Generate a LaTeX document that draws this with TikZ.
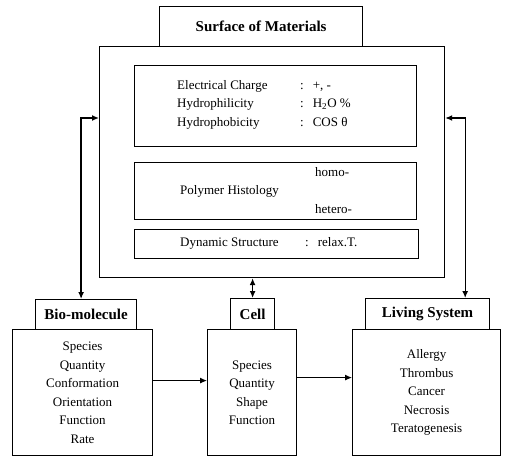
\documentclass[tikz,border=0pt]{standalone}
\usepackage{fontspec}
\setmainfont{Liberation Serif}
\usetikzlibrary{arrows.meta}

\begin{document}
\begin{tikzpicture}[x=1pt,y=-1pt,
	box/.style={draw, line width=1.2pt, inner sep=0pt},
	head/.style={box, font=\fontsize{15}{18}\selectfont\bfseries},
	body/.style={box, align=center, font=\fontsize{13}{18.5}\selectfont},
	txt/.style={inner sep=0pt, font=\fontsize{13}{18.5}\selectfont},
	dbl/.style={line width=1.3pt, {Latex[length=7pt,width=6pt]}-{Latex[length=7pt,width=6pt]}},
	arr/.style={line width=1pt, -{Latex[length=7pt,width=6pt]}}]
	\useasboundingbox (0,0) rectangle (505,457);

	%Surface of Materials
	\node[head, anchor=north west, minimum width=203pt, minimum height=40pt] (surf) at (159,6) {Surface of Materials};
	\node[box, anchor=north west, minimum width=345pt, minimum height=231pt] (frame) at (99,46) {};

	%properties
	\node[box, anchor=north west, minimum width=282pt, minimum height=81pt] (prop) at (134,65) {};
	\node[txt, anchor=west] (proptxt) at (177,104) {\begin{tabular}{@{}p{123pt}@{}l@{}}
		Electrical Charge & :\hspace{9pt}+, -\\
		Hydrophilicity & :\hspace{9pt}H\textsubscript{2}O \%\\
		Hydrophobicity & :\hspace{9pt}COS θ
	\end{tabular}};

	%histology
	\node[box, anchor=north west, minimum width=282pt, minimum height=57pt] (hist) at (134,162) {};
	\node[txt, anchor=west] (poly) at (180,191) {Polymer Histology};
	\node[txt, anchor=west] (homo) at (315,172) {homo-};
	\node[txt, anchor=west] (hetero) at (315,209) {hetero-};

	%dynamic
	\node[box, anchor=north west, minimum width=284pt, minimum height=29pt] (dyn) at (134,229) {};
	\node[txt, anchor=west] (dyntxt) at (180,243) {\makebox[125pt][l]{Dynamic Structure}:\hspace{9pt}relax.T.};

	%Bio-molecule
	\node[head, anchor=north west, minimum width=101pt, minimum height=30pt] (bioh) at (35,299) {Bio-molecule};
	\node[body, anchor=north west, minimum width=140pt, minimum height=126pt] (bio) at (12,329)
		{Species\\Quantity\\Conformation\\Orientation\\Function\\Rate};

	%Cell
	\node[head, anchor=north west, minimum width=44pt, minimum height=31pt] (cellh) at (230,298) {Cell};
	\node[body, anchor=north west, minimum width=89pt, minimum height=126pt] (cell) at (207,329)
		{Species\\Quantity\\Shape\\Function};

	%Living System
	\node[head, anchor=north west, minimum width=124pt, minimum height=31pt] (livh) at (365,298) {Living System};
	\node[body, anchor=north west, minimum width=148pt, minimum height=126pt] (liv) at (352,329)
		{Allergy\\Thrombus\\Cancer\\Necrosis\\Teratogenesis};

	%connections
	\draw[dbl] ([yshift=-72pt]frame.north west) -| ([xshift=-5pt]bioh.north);
	\draw[dbl] ([yshift=-72pt]frame.north east) -| ([xshift=-25pt]livh.north east);
	\draw[dbl] (cellh.north) -- (cellh.north |- frame.south);
	\draw[arr] ([yshift=12pt]bio.east) -- ([yshift=12pt]cell.west);
	\draw[arr] ([yshift=15pt]cell.east) -- ([yshift=15pt]liv.west);
\end{tikzpicture}
\end{document}
